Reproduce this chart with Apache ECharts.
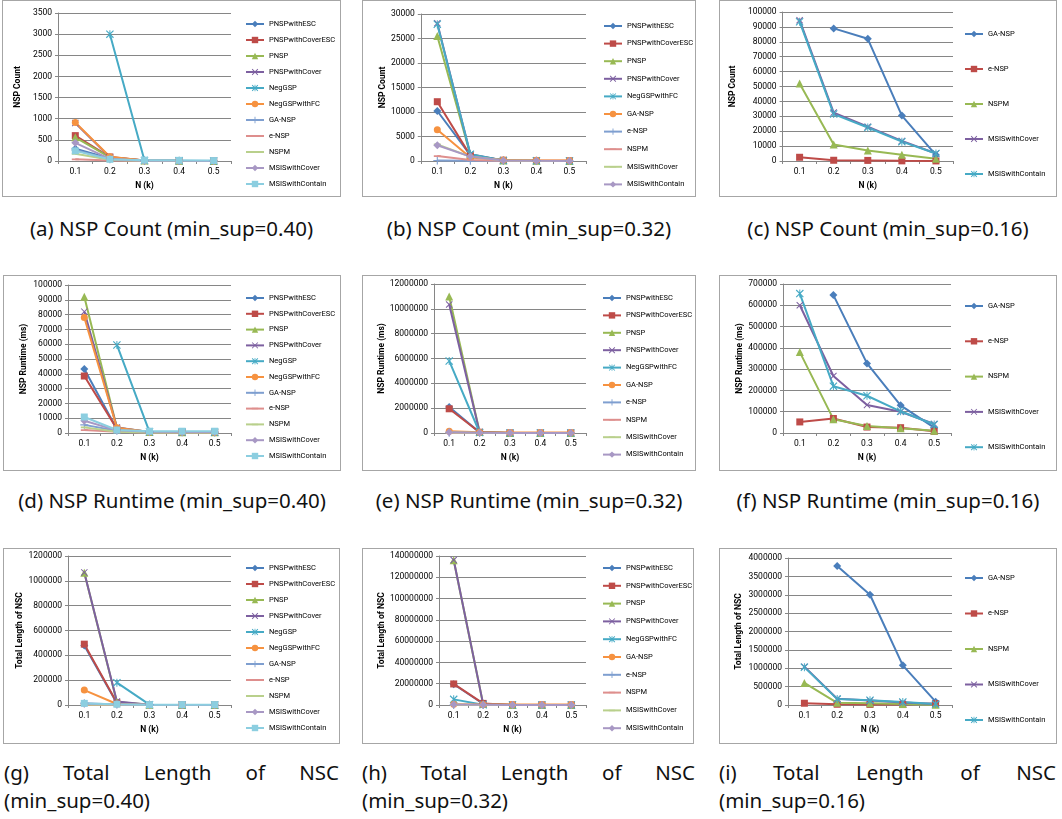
<!DOCTYPE html>
<html>
<head>
<meta charset="utf-8">
<script src="https://cdn.jsdelivr.net/npm/echarts@6/dist/echarts.min.js"></script>
<style>
  body { margin: 0; background: #fff; width: 1062px; height: 819px; position: relative; overflow: hidden; }
  .box { position: absolute; border: 1px solid #a6a6a6; box-sizing: border-box; background: #fff; }
  .cap { position: absolute; font-family: "Noto Sans", sans-serif; font-size: 20.5px; line-height: 28px; color: #111; }
  .center { text-align: center; }
  .just { text-align: justify; }
</style>
</head>
<body>
<div id="a" class="box" style="left:2px;top:0px;width:339px;height:197px"></div>
<div id="b" class="box" style="left:362px;top:0px;width:334px;height:197px"></div>
<div id="c" class="box" style="left:719px;top:0px;width:338px;height:197px"></div>
<div id="d" class="box" style="left:3px;top:275px;width:338px;height:196px"></div>
<div id="e" class="box" style="left:362px;top:275px;width:334px;height:196px"></div>
<div id="f" class="box" style="left:719px;top:275px;width:338px;height:196px"></div>
<div id="g" class="box" style="left:3px;top:548px;width:337px;height:196px"></div>
<div id="h" class="box" style="left:362px;top:548px;width:332px;height:196px"></div>
<div id="i" class="box" style="left:719px;top:548px;width:338px;height:196px"></div>

<div class="cap center" style="left:2px;top:214px;width:339px">(a) NSP Count (min_sup=0.40)</div>
<div class="cap center" style="left:362px;top:214px;width:334px">(b) NSP Count (min_sup=0.32)</div>
<div class="cap center" style="left:719px;top:214px;width:338px">(c) NSP Count (min_sup=0.16)</div>
<div class="cap center" style="left:3px;top:486px;width:338px">(d) NSP Runtime (min_sup=0.40)</div>
<div class="cap center" style="left:362px;top:486px;width:334px">(e) NSP Runtime (min_sup=0.32)</div>
<div class="cap center" style="left:719px;top:486px;width:338px">(f) NSP Runtime (min_sup=0.16)</div>
<div class="cap just" style="left:4px;top:758px;width:335px">(g) Total Length of NSC (min_sup=0.40)</div>
<div class="cap just" style="left:362px;top:758px;width:333px">(h) Total Length of NSC (min_sup=0.32)</div>
<div class="cap just" style="left:719px;top:758px;width:337px">(i) Total Length of NSC (min_sup=0.16)</div>

<script>
// x categories (N in thousands)
const categories = ['0.1', '0.2', '0.3', '0.4', '0.5'];

// series names per chart group
const names40 = ['PNSPwithESC', 'PNSPwithCoverESC', 'PNSP', 'PNSPwithCover', 'NegGSP', 'NegGSPwithFC',
  'GA-NSP', 'e-NSP', 'NSPM', 'MSISwithCover', 'MSISwithContain'];
const names32 = ['PNSPwithESC', 'PNSPwithCoverESC', 'PNSP', 'PNSPwithCover', 'NegGSPwithFC',
  'GA-NSP', 'e-NSP', 'NSPM', 'MSISwithCover', 'MSISwithContain'];
const names16 = ['GA-NSP', 'e-NSP', 'NSPM', 'MSISwithCover', 'MSISwithContain'];

// (a) NSP count, min_sup=0.40 (order = names40)
const countA = [
  [290, 60, 8, 3, 1],
  [600, 95, 10, 4, 2],
  [560, 85, 9, 3, 1],
  [900, 90, 10, 4, 2],
  [null, 3000, 12, 5, 2],
  [910, 100, 12, 5, 2],
  [260, 40, 6, 2, 1],
  [40, 10, 3, 1, 0],
  [170, 30, 5, 2, 1],
  [430, 50, 8, 3, 1],
  [240, 40, 20, 15, 10]
];
// (b) NSP count, min_sup=0.32 (order = names32)
const countB = [
  [10200, 1200, 100, 40, 20],
  [12100, 1100, 150, 60, 30],
  [25500, 1300, 120, 50, 20],
  [28100, 1400, 130, 50, 20],
  [27900, 1400, 100, 40, 20],
  [6400, 700, 200, 150, 120],
  [100, 30, 10, 5, 2],
  [1000, 200, 40, 10, 5],
  [3400, 900, 80, 30, 10],
  [3200, 900, 80, 30, 10]
];
// (c) NSP count, min_sup=0.16 (order = names16)
const countC = [
  [null, 89000, 82000, 30500, 4000],
  [2500, 500, 400, 100, 50],
  [52000, 11000, 7000, 4200, 1500],
  [94500, 32500, 23000, 13500, 5000],
  [93500, 31500, 22500, 13000, 5000]
];
// (d) NSP runtime (ms), min_sup=0.40
const runtimeD = [
  [43200, 2500, 600, 500, 500],
  [38500, 2800, 600, 500, 500],
  [92000, 3500, 600, 500, 500],
  [82000, 3800, 600, 500, 500],
  [null, 59500, 800, 600, 500],
  [78000, 3600, 700, 600, 500],
  [5500, 1500, 600, 500, 500],
  [2000, 800, 400, 300, 300],
  [3800, 900, 400, 300, 300],
  [8300, 1800, 800, 700, 700],
  [10800, 2000, 1200, 1200, 1200]
];
// (e) NSP runtime (ms), min_sup=0.32
const runtimeE = [
  [2100000, 50000, 5000, 3000, 2000],
  [1950000, 60000, 5000, 3000, 2000],
  [11000000, 80000, 6000, 3000, 2000],
  [10350000, 80000, 6000, 3000, 2000],
  [5800000, 40000, 5000, 3000, 2000],
  [150000, 60000, 50000, 50000, 50000],
  [30000, 10000, 3000, 2000, 1000],
  [10000, 5000, 2000, 1000, 1000],
  [50000, 20000, 5000, 3000, 2000],
  [70000, 30000, 5000, 3000, 2000]
];
// (f) NSP runtime (ms), min_sup=0.16
const runtimeF = [
  [null, 648000, 327000, 130000, 25000],
  [52000, 68000, 28000, 25000, 8000],
  [380000, 65000, 33000, 22000, 10000],
  [600000, 268000, 132000, 100000, 42000],
  [655000, 220000, 175000, 102000, 40000]
];
// (g) total length of NSC, min_sup=0.40
const lengthG = [
  [480000, 15000, 2000, 1000, 500],
  [490000, 18000, 2000, 1000, 500],
  [1065000, 25000, 2000, 1000, 500],
  [1068000, 28000, 2000, 1000, 500],
  [null, 180000, 3000, 1000, 500],
  [120000, 8000, 2000, 1000, 500],
  [15000, 5000, 1500, 1000, 500],
  [2000, 800, 300, 200, 100],
  [5000, 1500, 500, 300, 200],
  [10000, 4000, 1500, 1000, 500],
  [13000, 6000, 3000, 3000, 3000]
];
// (h) total length of NSC, min_sup=0.32
const lengthH = [
  [19500000, 1200000, 100000, 50000, 20000],
  [19800000, 1500000, 100000, 50000, 20000],
  [136000000, 1000000, 100000, 50000, 20000],
  [136200000, 1100000, 100000, 50000, 20000],
  [5300000, 300000, 50000, 30000, 10000],
  [800000, 500000, 500000, 500000, 500000],
  [100000, 30000, 10000, 5000, 2000],
  [50000, 20000, 5000, 2000, 1000],
  [200000, 80000, 20000, 10000, 5000],
  [500000, 150000, 30000, 15000, 8000]
];
// (i) total length of NSC, min_sup=0.16
const lengthI = [
  [null, 3780000, 3000000, 1080000, 90000],
  [48000, 20000, 15000, 12000, 40000],
  [600000, 60000, 45000, 25000, 10000],
  [1040000, 170000, 120000, 70000, 30000],
  [1030000, 160000, 130000, 80000, 25000]
];

// excel-like series look, by series index
const palette = ['#4A7EBB', '#BE4B48', '#98B954', '#7D60A0', '#46AAC5', '#F69240',
  '#7F9FD0', '#DE8F8D', '#B9D08C', '#A898C4', '#8CCEE0'];
const xMark = 'path://M0,1L1,0L10,9L9,10Z M9,0L10,1L1,10L0,9Z';
const starMark = 'path://M0,1L1,0L10,9L9,10Z M9,0L10,1L1,10L0,9Z M4.4,0L5.6,0L5.6,10L4.4,10Z';
const plusMark = 'path://M4.3,0L5.7,0L5.7,4.3L10,4.3L10,5.7L5.7,5.7L5.7,10L4.3,10L4.3,5.7L0,5.7L0,4.3L4.3,4.3Z';
const dashMark = 'path://M0,3.8L10,3.8L10,6.2L0,6.2Z M0,0L0.01,0L0,0.01Z M10,10L9.99,10L10,9.99Z';
const markers = ['diamond', 'rect', 'triangle', xMark, starMark, 'circle', plusMark, dashMark, dashMark, 'diamond', 'rect'];
const markerSize = [8, 7, 8, 7, 8, 7, 8, 7, 7, 8, 7];

const FONT = 'Roboto, sans-serif';

function makeChart(id, cfg) {
  const chart = echarts.init(document.getElementById(id), null, { renderer: 'canvas' });
  const series = cfg.names.map((name, i) => ({
    name: name,
    type: 'line',
    data: cfg.data[i],
    symbol: markers[i],
    symbolSize: markerSize[i],
    connectNulls: false,
    lineStyle: { width: 2, color: palette[i] },
    itemStyle: { color: palette[i] },
    emphasis: { disabled: true }
  }));
  chart.setOption({
    animation: false,
    grid: { left: cfg.grid[0], top: cfg.grid[1], width: cfg.grid[2], height: cfg.grid[3] },
    legend: {
      orient: 'vertical',
      left: cfg.legend[0] + 1,
      top: cfg.legend[1],
      itemGap: cfg.legend[2],
      padding: 0,
      itemWidth: 18,
      itemHeight: 8,
      textStyle: { fontFamily: FONT, fontSize: 7.5, lineHeight: 8, color: '#000' },
      data: cfg.names
    },
    xAxis: {
      type: 'category',
      data: categories,
      name: 'N (k)',
      nameLocation: 'middle',
      nameGap: 20,
      nameTextStyle: { fontFamily: FONT, fontSize: 8.5, fontWeight: 'bold', color: '#000' },
      axisLine: { lineStyle: { color: '#868686', width: 1 } },
      axisTick: { show: true, length: 3, lineStyle: { color: '#868686' } },
      axisLabel: { fontFamily: FONT, fontSize: 8.5, color: '#000', margin: 6 },
      splitLine: { show: false }
    },
    yAxis: {
      type: 'value',
      min: 0,
      max: cfg.max,
      interval: cfg.interval,
      name: cfg.yName,
      nameLocation: 'middle',
      nameRotate: 90,
      nameGap: cfg.nameGap,
      nameTextStyle: { fontFamily: FONT, fontSize: 8.5, fontWeight: 'bold', color: '#000' },
      axisLine: { show: true, lineStyle: { color: '#868686', width: 1 } },
      axisTick: { show: true, length: 3, lineStyle: { color: '#868686' } },
      axisLabel: { fontFamily: FONT, fontSize: 8.5, color: '#000', margin: 6, formatter: v => String(v) },
      splitLine: { lineStyle: { color: '#868686', width: 1 } }
    },
    series: series
  });
  return chart;
}

makeChart('a', { names: names40, data: countA, max: 3500, interval: 500, yName: 'NSP Count',
  nameGap: 30, grid: [55, 12, 173, 148], legend: [241, 19, 8] });
makeChart('b', { names: names32, data: countB, max: 30000, interval: 5000, yName: 'NSP Count',
  nameGap: 32, grid: [55, 13, 168, 147], legend: [239, 21, 9.6] });
makeChart('c', { names: names16, data: countC, max: 100000, interval: 10000, yName: 'NSP Count',
  nameGap: 38, grid: [61, 11, 172, 149], legend: [243, 29, 27] });
makeChart('d', { names: names40, data: runtimeD, max: 100000, interval: 10000, yName: 'NSP Runtime (ms)',
  nameGap: 40, grid: [64, 9, 163, 148], legend: [240, 18, 7.8] });
makeChart('e', { names: names32, data: runtimeE, max: 12000000, interval: 2000000, yName: 'NSP Runtime (ms)',
  nameGap: 48, grid: [71, 8, 152, 149], legend: [238, 18, 9.4] });
makeChart('f', { names: names16, data: runtimeF, max: 700000, interval: 100000, yName: 'NSP Runtime (ms)',
  nameGap: 38, grid: [63, 8, 168, 149], legend: [243, 26, 27.3] });
makeChart('g', { names: names40, data: lengthG, max: 1200000, interval: 200000, yName: 'Total Length of NSC',
  nameGap: 40, grid: [64, 7, 163, 149], legend: [240, 15, 8] });
makeChart('h', { names: names32, data: lengthH, max: 140000000, interval: 20000000, yName: 'Total Length of NSC',
  nameGap: 53, grid: [76, 7, 147, 149], legend: [238, 15, 9.8] });
makeChart('i', { names: names16, data: lengthI, max: 4000000, interval: 500000, yName: 'Total Length of NSC',
  nameGap: 45, grid: [68, 9, 164, 147], legend: [243, 25, 27.5] });
</script>
</body>
</html>
